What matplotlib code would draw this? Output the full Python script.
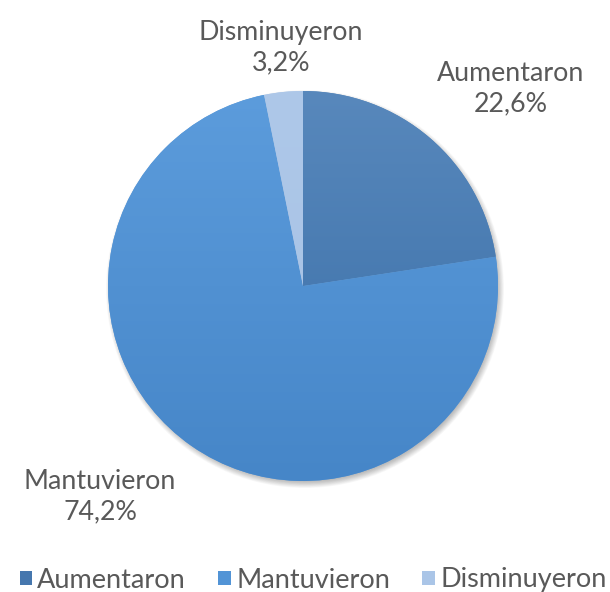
import numpy as np
import matplotlib
matplotlib.use("Agg")
import matplotlib.pyplot as plt
from matplotlib.patches import Patch, Circle
from matplotlib.colors import LinearSegmentedColormap

categories = ["Aumentaron", "Mantuvieron", "Disminuyeron"]
values = [22.6, 74.2, 3.2]
value_labels = ["22,6%", "74,2%", "3,2%"]

top_colors = ["#5888bc", "#5c9cdc", "#aec8e9"]
bot_colors = ["#386da6", "#4686c8", "#a6c1e4"]
legend_colors = ["#4677ae", "#5294d6", "#aac5e7"]
text_color = "#595959"
font = ["Lato", "DejaVu Sans"]

W, H = 610, 592
fig = plt.figure(figsize=(W / 100, H / 100), dpi=100)
ax = fig.add_axes([0, 0, 1, 1])

cx, cy, R = 303, 592 - 286, 195

# shadow
for i in range(12):
    ax.add_patch(Circle((cx + 2, cy - 3), R + 4 - i * 0.6, color="black",
                        alpha=0.025, lw=0, zorder=0))

wedges, _ = ax.pie(values, startangle=90, counterclock=False, radius=R,
                   center=(cx, cy), colors=top_colors,
                   wedgeprops=dict(linewidth=0), frame=True)

grad = np.linspace(0, 1, 256).reshape(-1, 1)
for w, c1, c2 in zip(wedges, top_colors, bot_colors):
    cmap = LinearSegmentedColormap.from_list("g", [c1, c2])
    im = ax.imshow(grad, cmap=cmap, extent=(cx - R, cx + R, cy - R, cy + R),
                   origin="upper", aspect="auto", zorder=2)
    im.set_clip_path(w)

ax.set_xlim(0, W)
ax.set_ylim(0, H)
ax.set_aspect("equal")
ax.axis("off")

# data labels
label_pos = [(511, 592 - 89), (100, 592 - 497), (281, 592 - 48)]
for (x, y), cat, lab in zip(label_pos, categories, value_labels):
    ax.text(x, y, f"{cat}\n{lab}", ha="center", va="center", fontsize=19.3,
            color=text_color, family=font, linespacing=1.27, zorder=5)

handles = [Patch(facecolor=c, edgecolor="none") for c in legend_colors]
leg = ax.legend(handles, categories, loc="center", bbox_to_anchor=(313 / W, 1 - 580 / H),
                ncol=3, frameon=False, handlelength=0.45, handleheight=0.45,
                handletextpad=0.2, columnspacing=1.2, borderaxespad=0,
                borderpad=0, prop=dict(family=font, size=19.5))
for t in leg.get_texts():
    t.set_color(text_color)

fig.savefig("out.png", dpi=100)
